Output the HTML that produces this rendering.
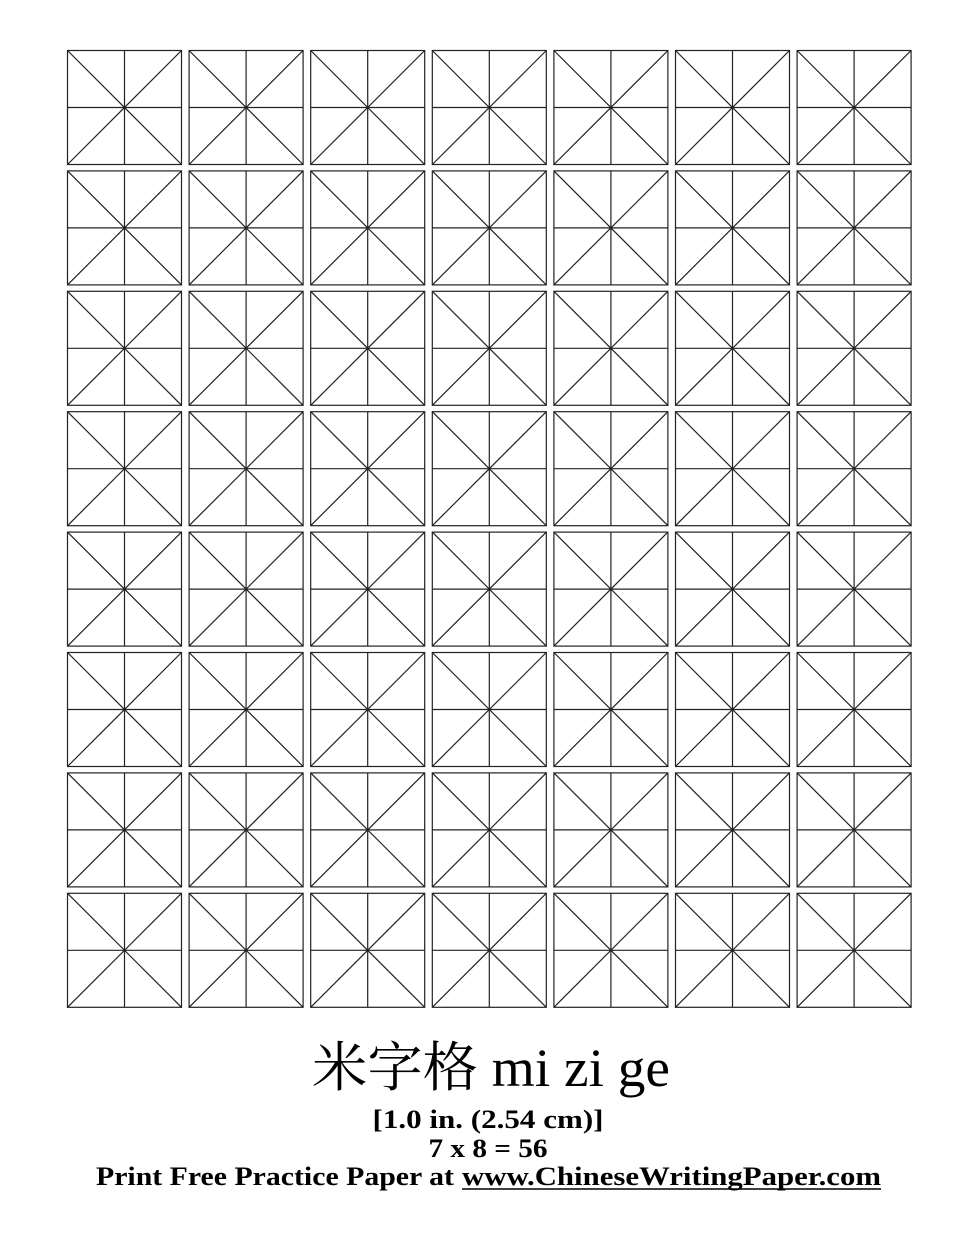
<!DOCTYPE html>
<html><head><meta charset="utf-8"><style>
html,body{margin:0;padding:0;background:#fff;}
svg{display:block;}
</style></head><body>
<svg id="page" width="969" height="1254" viewBox="0 0 969 1254" xmlns="http://www.w3.org/2000/svg">
<rect width="969" height="1254" fill="#fff"/>
<g id="grid"></g>
<text x="491" y="1086" text-anchor="middle" font-family="'Liberation Serif','Noto Serif CJK SC',serif" font-size="54" textLength="358" lengthAdjust="spacingAndGlyphs">米字格 mi zi ge</text>
<text x="488" y="1128" text-anchor="middle" font-family="'Liberation Serif',serif" font-weight="bold" font-size="26" textLength="231" lengthAdjust="spacingAndGlyphs">[1.0 in. (2.54 cm)]</text>
<text x="488" y="1157" text-anchor="middle" font-family="'Liberation Serif',serif" font-weight="bold" font-size="26" textLength="119" lengthAdjust="spacingAndGlyphs">7 x 8 = 56</text>
<text x="96" y="1185" font-family="'Liberation Serif',serif" font-weight="bold" font-size="26" textLength="358" lengthAdjust="spacingAndGlyphs">Print Free Practice Paper at</text>
<text x="462" y="1185" font-family="'Liberation Serif',serif" font-weight="bold" font-size="26" textLength="419" lengthAdjust="spacingAndGlyphs">www.ChineseWritingPaper.com</text>
<line x1="462" y1="1189" x2="881" y2="1189" stroke="#000" stroke-width="1.5"/>
</svg>
<script>
const cols = 7;
const rows = 8;
const x0 = 67.5, y0 = 50.5, size = 114, px = 121.6, py = 120.4;
const g = document.getElementById('grid');
const NS = 'http://www.w3.org/2000/svg';
for (let r = 0; r < rows; r++) {
  for (let c = 0; c < cols; c++) {
    const x = x0 + c * px, y = y0 + r * py, h = size / 2;
    const cell = document.createElementNS(NS, 'g');
    
    
    cell.setAttribute('stroke', '#222');
    cell.setAttribute('stroke-width', '1.2');
    cell.setAttribute('fill', 'none');
    const rect = document.createElementNS(NS, 'rect');
    rect.setAttribute('x', x); rect.setAttribute('y', y);
    rect.setAttribute('width', size); rect.setAttribute('height', size);
    cell.appendChild(rect);
    const lines = [[x+h,y,x+h,y+size],[x,y+h,x+size,y+h],[x,y,x+size,y+size],[x+size,y,x,y+size]];
    for (const l of lines) {
      const ln = document.createElementNS(NS, 'line');
      ln.setAttribute('x1', l[0]); ln.setAttribute('y1', l[1]);
      ln.setAttribute('x2', l[2]); ln.setAttribute('y2', l[3]);
      cell.appendChild(ln);
    }
    g.appendChild(cell);
  }
}
</script>
</body></html>
